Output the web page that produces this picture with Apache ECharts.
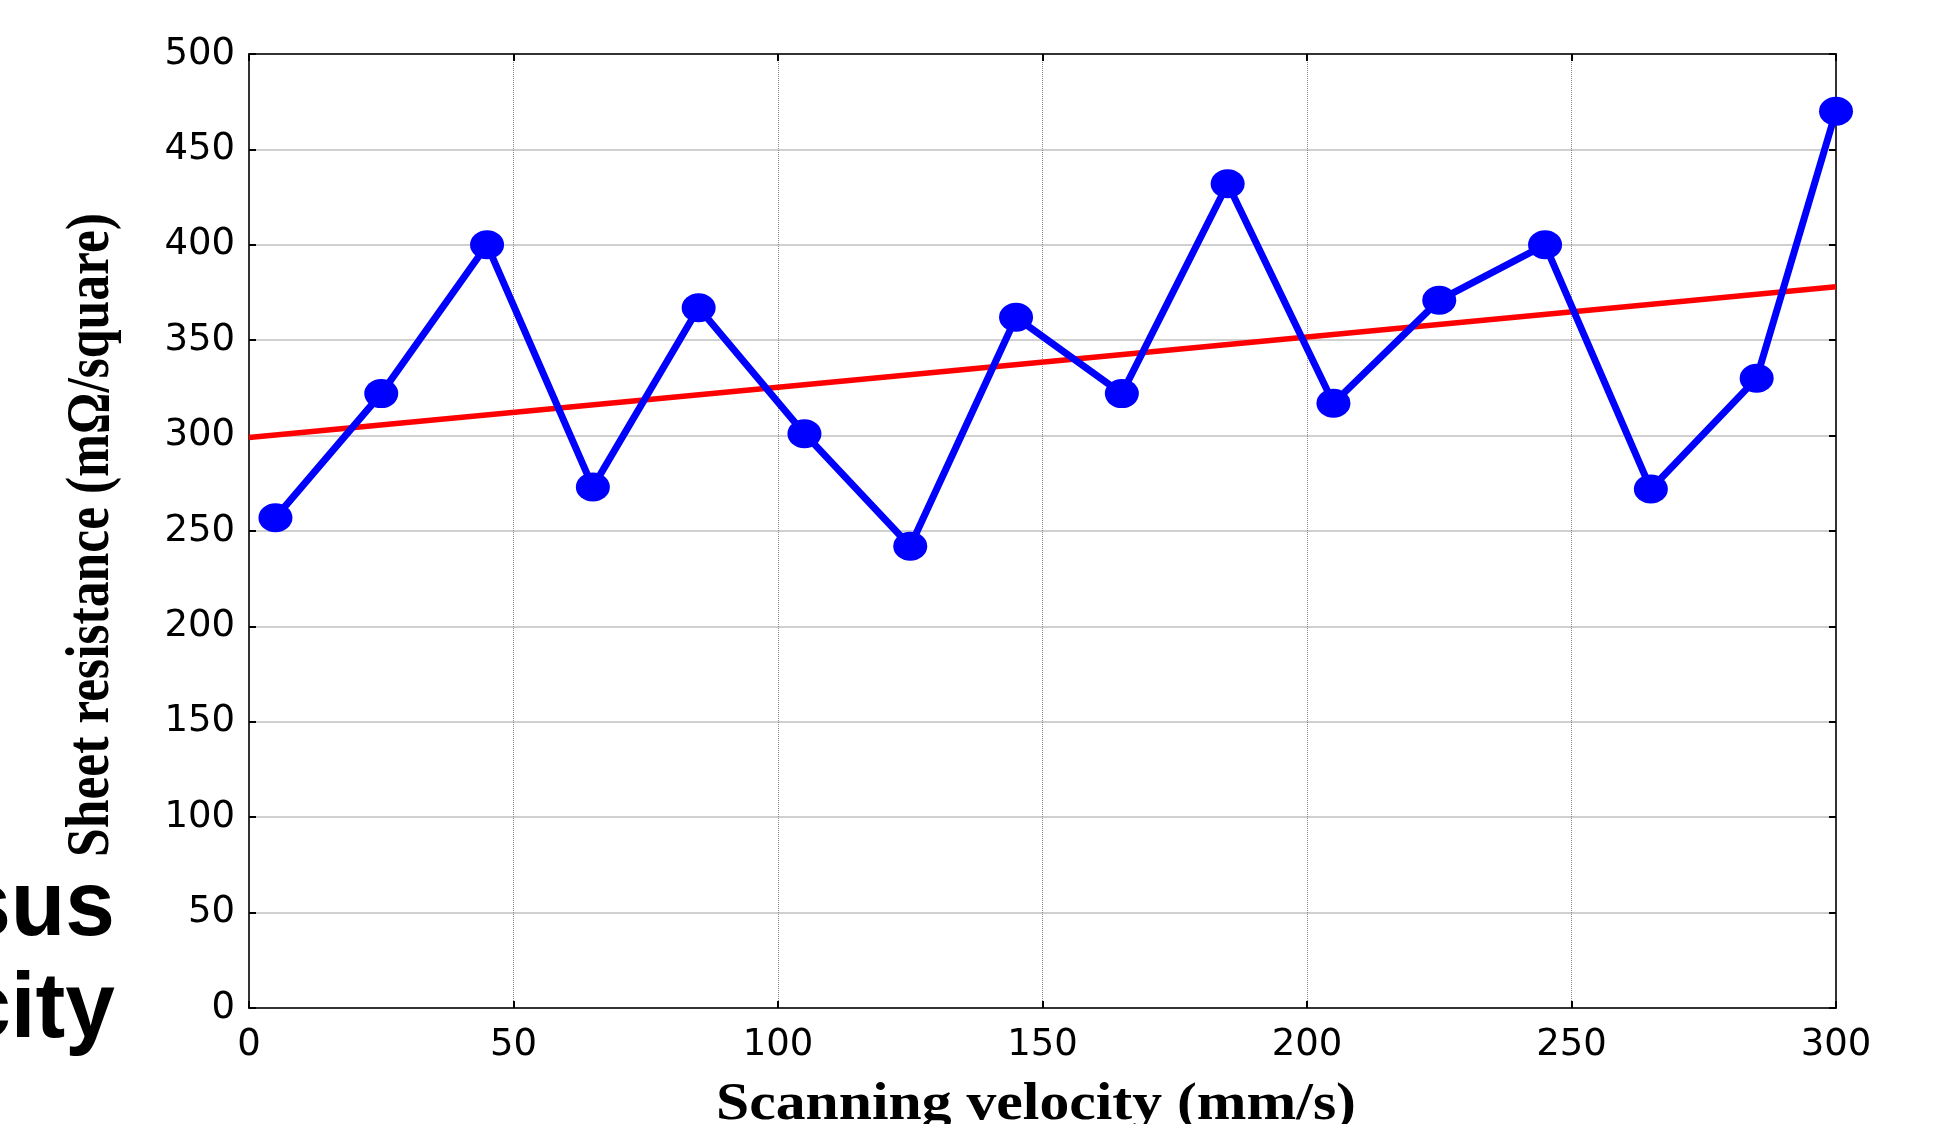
<!DOCTYPE html>
<html>
<head>
<meta charset="utf-8">
<title>Sheet resistance vs scanning velocity</title>
<script src="https://cdn.jsdelivr.net/npm/echarts@6.0.0/dist/echarts.min.js"></script>
<style>
  html, body { margin: 0; padding: 0; background: #fff; }
  #main { width: 1933px; height: 1124px; }
</style>
</head>
<body>
<div id="main"></div>
<script>
// scanning velocity (mm/s)
var velocity = [5, 25, 45, 65, 85, 105, 125, 145, 165, 185, 205, 225, 245, 265, 285, 300];
// sheet resistance (mOhm/square)
var resistance = [257, 322, 400, 273, 367, 301, 242, 362, 322, 432, 317, 371, 400, 272, 330, 470];
// linear fit end points
var fitX = [0, 300];
var fitY = [299, 378];
// tick labels
var xTicks = [0, 50, 100, 150, 200, 250, 300];
var yTicks = [0, 50, 100, 150, 200, 250, 300, 350, 400, 450, 500];

var xTitle = 'Scanning velocity (mm/s)';
var yTitle = 'Sheet resistance (mΩ/square)';
var sideText = ['sus', 'city'];

var serifFont = 'bold 53px "Liberation Serif", "Times New Roman", serif';

// canvas measure, used to stretch the titles like the original figure
function textWidth(txt, font) {
  var ctx = document.createElement('canvas').getContext('2d');
  ctx.font = font;
  return ctx.measureText(txt).width;
}

var myChart = echarts.init(document.getElementById('main'), null, { renderer: 'canvas' });

var tickLabel = {
  color: '#000',
  fontFamily: '"DejaVu Sans", "Liberation Sans", sans-serif',
  fontSize: 37
};

var option = {
  backgroundColor: '#fff',
  animation: false,
  grid: {
    left: 249,
    right: 97,
    top: 54,
    bottom: 116,
    outerBoundsMode: 'none'
  },
  xAxis: [
    {
      type: 'value',
      min: xTicks[0],
      max: xTicks[xTicks.length - 1],
      interval: 50,
      axisLine: { onZero: false, lineStyle: { color: '#333', width: 2 } },
      axisTick: { inside: true, length: 7, lineStyle: { color: '#000', width: 2 } },
      axisLabel: Object.assign({ margin: 19 }, tickLabel),
      splitLine: { show: true, lineStyle: { color: '#8a8a8a', width: 1, type: 'dotted' } }
    },
    {
      type: 'value',
      position: 'top',
      min: xTicks[0],
      max: xTicks[xTicks.length - 1],
      interval: 50,
      axisLine: { show: true, onZero: false, lineStyle: { color: '#333', width: 2 } },
      axisTick: { show: true, inside: true, length: 7, lineStyle: { color: '#000', width: 2 } },
      axisLabel: { show: false },
      splitLine: { show: false }
    }
  ],
  yAxis: [
    {
      type: 'value',
      min: yTicks[0],
      max: yTicks[yTicks.length - 1],
      interval: 50,
      axisLine: { show: true, onZero: false, lineStyle: { color: '#333', width: 2 } },
      axisTick: { show: true, inside: true, length: 7, lineStyle: { color: '#000', width: 2 } },
      axisLabel: Object.assign({ margin: 14 }, tickLabel),
      splitLine: { show: true, lineStyle: { color: '#c0c0c0', width: 1.5 } }
    },
    {
      type: 'value',
      position: 'right',
      min: yTicks[0],
      max: yTicks[yTicks.length - 1],
      interval: 50,
      axisLine: { show: true, onZero: false, lineStyle: { color: '#333', width: 2 } },
      axisTick: { show: true, inside: true, length: 7, lineStyle: { color: '#000', width: 2 } },
      axisLabel: { show: false },
      splitLine: { show: false }
    }
  ],
  series: [
    {
      name: 'fit',
      type: 'line',
      xAxisIndex: 0,
      yAxisIndex: 0,
      data: fitX.map(function (x, i) { return [x, fitY[i]]; }),
      showSymbol: false,
      symbol: 'none',
      lineStyle: { color: '#ff0000', width: 5.5 },
      z: 3
    },
    {
      name: 'measured',
      type: 'line',
      xAxisIndex: 0,
      yAxisIndex: 0,
      data: velocity.map(function (x, i) { return [x, resistance[i]]; }),
      symbol: 'circle',
      symbolSize: [34, 29],
      itemStyle: { color: '#0000ff' },
      lineStyle: { color: '#0000ff', width: 7 },
      z: 4
    }
  ],
  graphic: []
};

// axis titles: the source figure is slightly stretched, so fit them to the measured span
var xLen = 640, yLen = 644;
var xScale = xLen / textWidth(xTitle, serifFont);
var yScale = yLen / textWidth(yTitle, serifFont);

option.graphic.push({
  type: 'text',
  x: 1036,
  y: 1105,
  scaleX: xScale,
  scaleY: 1,
  style: { text: xTitle, font: serifFont, fill: '#000', align: 'center', verticalAlign: 'middle' }
});
option.graphic.push({
  type: 'text',
  x: 92,
  y: 535,
  rotation: Math.PI / 2,
  scaleX: yScale,
  scaleY: 1.17,
  style: { text: yTitle, font: serifFont, fill: '#000', align: 'center', verticalAlign: 'middle' }
});

// leftover slide text cut off at the left edge
var sideY = [909, 1011];
sideText.forEach(function (t, i) {
  option.graphic.push({
    type: 'text',
    x: 115,
    y: sideY[i],
    scaleX: 0.96,
    style: {
      text: t,
      font: 'bold 93px "Liberation Sans", Arial, sans-serif',
      fill: '#000',
      align: 'right',
      verticalAlign: 'middle'
    }
  });
});

myChart.setOption(option);
</script>
</body>
</html>
